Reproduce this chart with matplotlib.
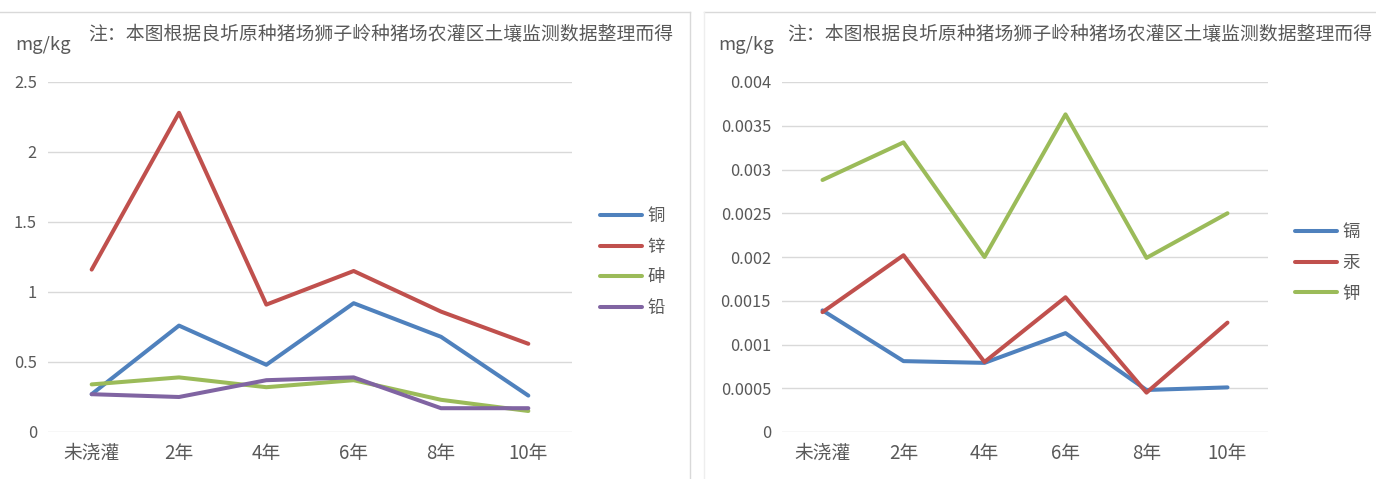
import matplotlib
matplotlib.use('Agg')
import matplotlib.pyplot as plt
from matplotlib.lines import Line2D

plt.rcParams['font.family'] = ['Noto Sans CJK SC', 'DejaVu Sans']

# 灌溉年限
years = ['未浇灌', '2年', '4年', '6年', '8年', '10年']

# 左图：铜、锌、砷、铅 (mg/kg)
cu = [0.27, 0.76, 0.48, 0.92, 0.68, 0.26]
zn = [1.16, 2.28, 0.91, 1.15, 0.86, 0.63]
as_ = [0.34, 0.39, 0.32, 0.37, 0.23, 0.15]
pb = [0.27, 0.25, 0.37, 0.39, 0.17, 0.17]

# 右图：镉、汞、钾 (mg/kg)
cd = [0.00139, 0.00081, 0.00079, 0.00113, 0.00048, 0.00051]
hg = [0.00137, 0.00202, 0.00080, 0.00154, 0.00045, 0.00125]
k = [0.00288, 0.00331, 0.00200, 0.00363, 0.00199, 0.00250]

left_ticks = [0, 0.5, 1, 1.5, 2, 2.5]
left_ticklabels = ['0', '0.5', '1', '1.5', '2', '2.5']
right_ticks = [0, 0.0005, 0.001, 0.0015, 0.002, 0.0025, 0.003, 0.0035, 0.004]
right_ticklabels = ['0', '0.0005', '0.001', '0.0015', '0.002', '0.0025',
                    '0.003', '0.0035', '0.004']

note = '注：本图根据良圻原种猪场狮子岭种猪场农灌区土壤监测数据整理而得'

BLUE = '#4F81BD'
RED = '#C0504D'
GREEN = '#9BBB59'
PURPLE = '#8064A2'
TXT = '#595959'
GRID = '#D9D9D9'

W, H = 1376, 479
fig = plt.figure(figsize=(W / 100, H / 100), dpi=100)
fig.patch.set_facecolor('white')


def px_axes(x0, x1, y0, y1):
    # 以像素坐标(左上为原点)定位坐标轴
    return fig.add_axes([x0 / W, 1 - y1 / H, (x1 - x0) / W, (y1 - y0) / H])


def style(ax, ticks, ticklabels, ymax):
    ax.set_xlim(-0.5, len(years) - 0.5)
    ax.set_ylim(0, ymax)
    ax.set_yticks(ticks)
    ax.set_yticklabels(ticklabels)
    ax.set_xticks(range(len(years)))
    ax.set_xticklabels(years)
    for s in ax.spines.values():
        s.set_visible(False)
    ax.grid(axis='y', color=GRID, lw=1.0)
    ax.set_axisbelow(True)
    ax.tick_params(length=0, colors=TXT)
    ax.tick_params(axis='y', pad=8, labelsize=11.8)
    ax.tick_params(axis='x', pad=8, labelsize=13.5)
    for lab in ax.get_xticklabels() + ax.get_yticklabels():
        lab.set_color(TXT)


def add_legend(ax, x_anchor, y_anchor):
    ax.legend(loc='center left', bbox_to_anchor=(x_anchor, y_anchor), frameon=False,
              fontsize=12.5, handlelength=2.4, handletextpad=0.35,
              labelspacing=0.72, borderaxespad=0, labelcolor=TXT)


xs = range(len(years))
lw = 2.9

ax1 = px_axes(48, 572, 82, 432)
style(ax1, left_ticks, left_ticklabels, 2.5)
ax1.plot(xs, cu, color=BLUE, lw=lw, label='铜', solid_capstyle='round')
ax1.plot(xs, zn, color=RED, lw=lw, label='锌', solid_capstyle='round')
ax1.plot(xs, as_, color=GREEN, lw=lw, label='砷', solid_capstyle='round')
ax1.plot(xs, pb, color=PURPLE, lw=lw, label='铅', solid_capstyle='round')
add_legend(ax1, (593 - 48) / 524, (432 - 262) / 350)

ax2 = px_axes(782, 1268, 82, 432)
style(ax2, right_ticks, right_ticklabels, 0.004)
ax2.plot(xs, cd, color=BLUE, lw=lw, label='镉', solid_capstyle='round')
ax2.plot(xs, hg, color=RED, lw=lw, label='汞', solid_capstyle='round')
ax2.plot(xs, k, color=GREEN, lw=lw, label='钾', solid_capstyle='round')
add_legend(ax2, (1288 - 782) / 486, (432 - 263) / 350)

# 单位与注释
fig.text(15 / W, 1 - 45 / H, 'mg/kg', fontsize=13.3, color=TXT, va='center')
fig.text(88 / W, 1 - 35 / H, note, fontsize=13.55, color=TXT, va='center')
fig.text(718 / W, 1 - 45 / H, 'mg/kg', fontsize=13.3, color=TXT, va='center')
fig.text(787 / W, 1 - 35 / H, note, fontsize=13.55, color=TXT, va='center')

# 图表边框
border = '#D9D9D9'
fig.add_artist(Line2D([0, 690 / W], [1 - 12 / H] * 2, color=border, lw=1))
fig.add_artist(Line2D([690 / W] * 2, [0, 1 - 12 / H], color=border, lw=1))
fig.add_artist(Line2D([704 / W, 1], [1 - 12 / H] * 2, color=border, lw=1))
fig.add_artist(Line2D([704 / W] * 2, [0, 1 - 12 / H], color='#EEEEEE', lw=1))

fig.savefig('out.png', dpi=100)
